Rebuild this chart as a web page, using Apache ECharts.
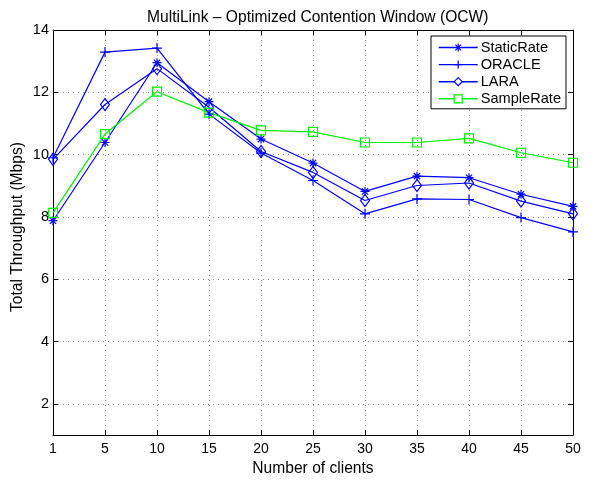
<!DOCTYPE html>
<html>
<head>
<meta charset="utf-8">
<script src="https://cdn.jsdelivr.net/npm/echarts@6/dist/echarts.min.js"></script>
<style>html,body{margin:0;padding:0;background:#fff;}#c{width:596px;height:482px;}</style>
</head>
<body>
<div id="c"></div>
<script>
var categories = ['1','5','10','15','20','25','30','35','40','45','50'];
var staticRate = [7.88, 10.39, 12.95, 11.7, 10.5, 9.73, 8.82, 9.31, 9.26, 8.73, 8.34];
var oracle     = [9.9, 13.29, 13.42, 11.3, 10.05, 9.17, 8.1, 8.58, 8.56, 7.98, 7.52];
var lara       = [9.85, 11.61, 12.76, 11.52, 10.1, 9.43, 8.53, 9.01, 9.09, 8.51, 8.1];
var sampleRate = [8.13, 10.66, 12.02, 11.35, 10.78, 10.73, 10.39, 10.39, 10.52, 10.06, 9.74];
var yTicks = [2, 4, 6, 8, 10, 12, 14];

var FONT = 'Liberation Sans';
var BLUE = '#0000ff', GREEN = '#00ee00';
var asterisk = 'path://M5,0L5,10M0,5L10,5M1.5,1.5L8.5,8.5M1.5,8.5L8.5,1.5';
var plus = 'path://M5,0L5,10M0,5L10,5';

function mk(name, data, color, symbol, size) {
  return {
    name: name, type: 'line', data: data, xAxisIndex: 0, yAxisIndex: 0,
    symbol: symbol, symbolSize: size, showAllSymbol: true,
    lineStyle: { color: color, width: 1.2 },
    itemStyle: { color: 'transparent', borderColor: color, borderWidth: 1.2 },
    emphasis: { disabled: true }, animation: false, z: 3
  };
}
function li(name, color) {
  return { name: name, itemStyle: { color: '#fff', borderColor: color, borderWidth: 1.2 },
           lineStyle: { color: color, width: 1.4 } };
}

var chart = echarts.init(document.getElementById('c'), null, { renderer: 'canvas' });
chart.setOption({
  backgroundColor: '#fff',
  animation: false,
  title: { text: 'MultiLink \u2013 Optimized Contention Window (OCW)', left: 142, top: 5,
    textStyle: { fontFamily: FONT, fontSize: 15.6, fontWeight: 'normal', color: '#000' } },
  grid: { left: 53, top: 30, width: 520, height: 408 },
  graphic: [{
    type: 'text', x: 17.5, y: 227, rotation: Math.PI / 2,
    style: { text: 'Total Throughput (Mbps)', fontFamily: FONT, fontSize: 15.6, fill: '#000',
             align: 'center', verticalAlign: 'middle' }
  }],
  legend: {
    orient: 'vertical', left: 431, top: 36, padding: [4, 5, 2.5, 7],
    itemWidth: 39, itemHeight: 10, itemGap: 2.1,
    backgroundColor: '#fff', borderColor: '#000', borderWidth: 1,
    textStyle: { fontFamily: FONT, fontSize: 14.6, color: '#000', padding: [0, 0, 0, -2] },
    data: [li('StaticRate', BLUE), li('ORACLE', BLUE), li('LARA', BLUE), li('SampleRate', GREEN)]
  },
  xAxis: [{
    type: 'category', data: categories, boundaryGap: false, position: 'bottom',
    name: 'Number of clients', nameLocation: 'middle', nameGap: 22,
    nameTextStyle: { fontFamily: FONT, fontSize: 15.6, color: '#000' },
    axisLine: { lineStyle: { color: '#000', width: 1 } },
    axisTick: { inside: true, length: 5, lineStyle: { color: '#000' } },
    axisLabel: { fontFamily: FONT, fontSize: 14, color: '#000', margin: 7 },
    splitLine: { show: true, lineStyle: { color: '#888', type: [1, 4], width: 1 } }
  }, {
    type: 'category', data: categories, boundaryGap: false, position: 'top',
    axisLine: { lineStyle: { color: '#000', width: 1 } },
    axisTick: { inside: true, length: 5, lineStyle: { color: '#000' } },
    axisLabel: { show: false }, splitLine: { show: false }
  }],
  yAxis: [{
    type: 'value', min: 1, max: 14, position: 'left',
    axisLine: { show: true, lineStyle: { color: '#000', width: 1 } },
    axisTick: { show: true, inside: true, length: 5, customValues: yTicks, lineStyle: { color: '#000' } },
    axisLabel: { fontFamily: FONT, fontSize: 14.5, color: '#000', margin: 4, customValues: yTicks },
    splitLine: { show: true, lineStyle: { color: '#888', type: [1, 4], width: 1 } }
  }, {
    type: 'value', min: 1, max: 14, position: 'right',
    axisLine: { show: true, lineStyle: { color: '#000', width: 1 } },
    axisTick: { show: true, inside: true, length: 5, customValues: yTicks, lineStyle: { color: '#000' } },
    axisLabel: { show: false }, splitLine: { show: false }
  }],
  series: [
    mk('StaticRate', staticRate, BLUE, asterisk, 9),
    mk('ORACLE', oracle, BLUE, plus, 10),
    mk('LARA', lara, BLUE, 'diamond', [9, 12]),
    mk('SampleRate', sampleRate, GREEN, 'rect', 9)
  ]
});
</script>
</body>
</html>
